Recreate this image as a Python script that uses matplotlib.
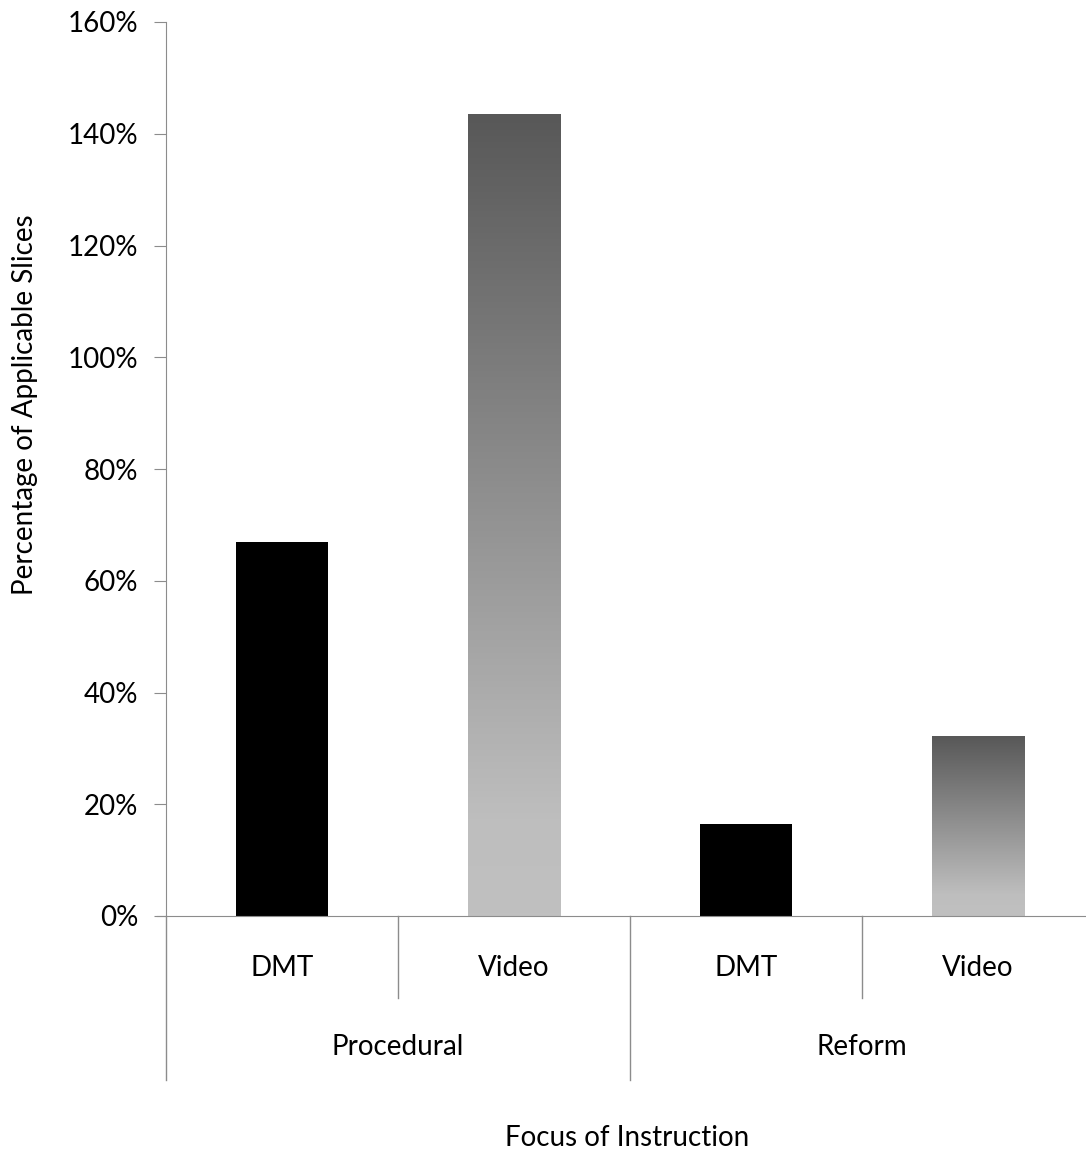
import matplotlib.pyplot as plt
import numpy as np
from matplotlib.colors import LinearSegmentedColormap

plt.rcParams['font.family'] = ['Lato', 'DejaVu Sans']

# data
groups = ["Procedural", "Reform"]
methods = ["DMT", "Video", "DMT", "Video"]
values = [67, 143.4, 16.5, 32.2]
gradient_bar = [False, True, False, True]
yticks = [0, 20, 40, 60, 80, 100, 120, 140, 160]

W, H = 1086, 1155
fs = 20
fig = plt.figure(figsize=(W / 100, H / 100), dpi=100)
# axes box in pixels: x 166..1094, y 22..916
ax = fig.add_axes([166 / W, 1 - 916 / H, (1094 - 166) / W, (916 - 22) / H])

x = np.arange(len(values))
bars = ax.bar(x, values, width=0.4, color="black", zorder=2)

# grey gradient for the video bars
cmap = LinearSegmentedColormap.from_list(
    "g", [(0, "#c0c0c0"), (0.12, "#bebebe"), (1, "#585858")])
grad = np.linspace(0, 1, 256).reshape(-1, 1)
for b, g in zip(bars, gradient_bar):
    if g:
        b.set_visible(False)
        x0, w, h = b.get_x(), b.get_width(), b.get_height()
        ax.imshow(grad, cmap=cmap, origin="lower", aspect="auto",
                  extent=(x0, x0 + w, 0, h), zorder=2)

ax.set_xlim(-0.5, len(values) - 0.5)
ax.set_ylim(0, 160)
ax.set_yticks(yticks)
ax.set_yticklabels([f"{t}%" for t in yticks], fontsize=fs)
ax.set_xticks([])

line_c = "#8c8c8c"
for s in ["top", "right"]:
    ax.spines[s].set_visible(False)
ax.spines["left"].set_color(line_c)
ax.spines["bottom"].set_color(line_c)
ax.spines["bottom"].set_bounds(-0.54, 3.5)
ax.tick_params(axis="y", colors=line_c, length=9, labelcolor="black", pad=11)

# category labels and dividers below the axis
trans = ax.get_xaxis_transform()
px = 1 / (916 - 22)
for i, m in enumerate(methods):
    ax.text(i, -(968 - 916) * px, m, transform=trans, ha="center", va="center",
            fontsize=fs)
for i, g in enumerate(groups):
    ax.text(2 * i + 0.5, -(1047 - 916) * px, g, transform=trans, ha="center",
            va="center", fontsize=fs)
for xd in [0.5, 2.5]:
    ax.plot([xd, xd], [0, -(998 - 916) * px], transform=trans, color=line_c,
            lw=1, clip_on=False)
for xd in [-0.5, 1.5, 3.5]:
    ax.plot([xd, xd], [0, -(1080 - 916) * px], transform=trans, color=line_c,
            lw=1, clip_on=False)

fig.text(627 / W, 1 - 1138 / H, "Focus of Instruction", ha="center",
         va="center", fontsize=fs)
fig.text(25 / W, 1 - 405 / H, "Percentage of Applicable Slices", ha="center",
         va="center", rotation=90, fontsize=fs)

fig.savefig("out.png", dpi=100)
